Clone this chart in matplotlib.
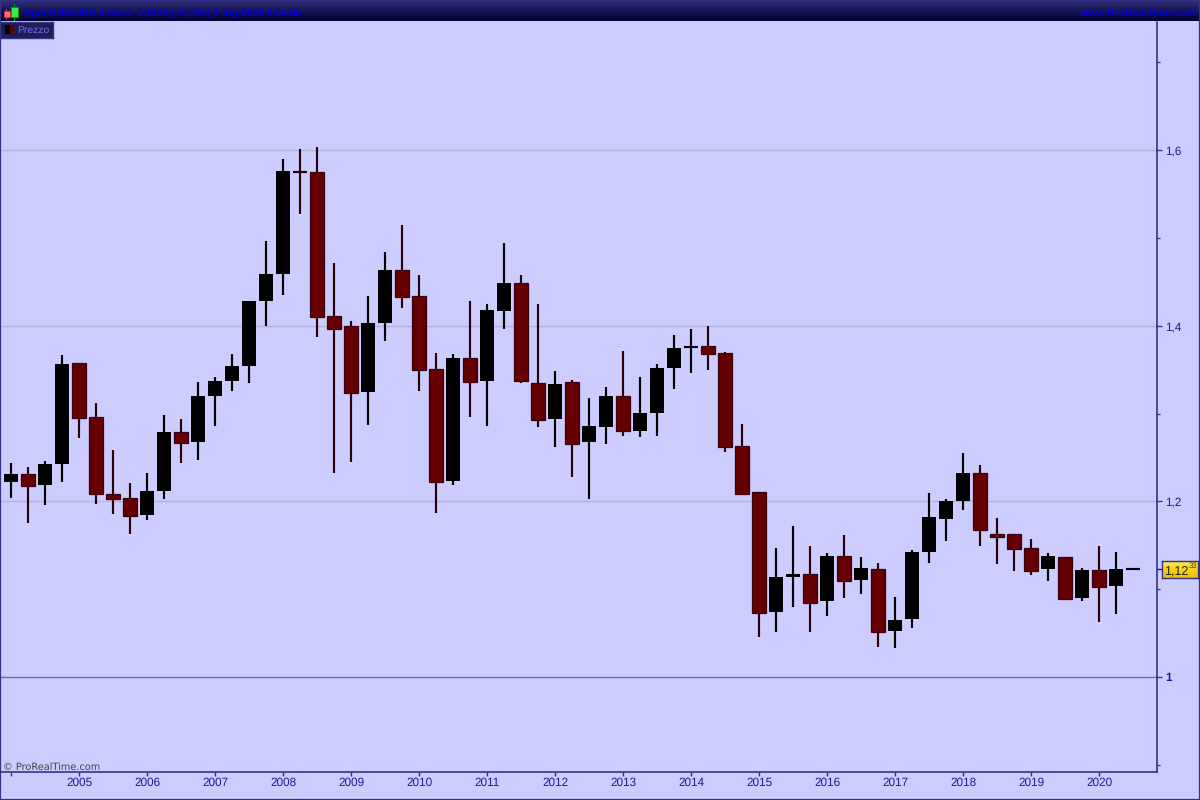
import numpy as np
import matplotlib
matplotlib.use('Agg')
import matplotlib.pyplot as plt
from matplotlib.colors import LinearSegmentedColormap
from matplotlib.patches import Rectangle
from matplotlib.ticker import FuncFormatter

plt.rcParams['text.hinting'] = 'no_hinting'

# quarterly EUR/USD candles
opens = [1.2221, 1.2312, 1.2187, 1.2426, 1.3576, 1.2961, 1.2084, 1.2039, 1.1845, 1.2119, 1.2791,
         1.2677, 1.3201, 1.3371, 1.3542, 1.4283, 1.4590, 1.5757, 1.5752, 1.4112, 1.3998, 1.3246,
         1.4032, 1.4636, 1.4340, 1.3508, 1.2232, 1.3633, 1.3371, 1.4169, 1.4488, 1.3349, 1.2939,
         1.3360, 1.2677, 1.2848, 1.3201, 1.2802, 1.3007, 1.3520, 1.3753, 1.3770, 1.3690, 1.2631,
         1.2107, 1.0740, 1.1139, 1.1173, 1.0866, 1.1378, 1.1105, 1.1230, 1.0524, 1.0661, 1.1424,
         1.1800, 1.2005, 1.2324, 1.1629, 1.1629, 1.1469, 1.1230, 1.1367, 1.0900, 1.1219, 1.1036,
         1.1225]
highs = [1.2437, 1.2392, 1.2460, 1.3668, 1.3576, 1.3121, 1.2586, 1.2210, 1.2324, 1.2984, 1.2939,
         1.3360, 1.3417, 1.3679, 1.4283, 1.4966, 1.5900, 1.6014, 1.6037, 1.4715, 1.4055, 1.4340,
         1.4841, 1.5148, 1.4579, 1.3690, 1.3679, 1.4283, 1.4248, 1.4943, 1.4579, 1.4248, 1.3485,
         1.3383, 1.3178, 1.3303, 1.3713, 1.3417, 1.3565, 1.3895, 1.3964, 1.3998, 1.3702, 1.2882,
         1.2107, 1.1469, 1.1720, 1.1492, 1.1412, 1.1617, 1.1367, 1.1298, 1.0911, 1.1447, 1.2096,
         1.2027, 1.2551, 1.2415, 1.1811, 1.1629, 1.1572, 1.1412, 1.1367, 1.1242, 1.1492, 1.1424,
         1.1233]
lows = [1.2039, 1.1754, 1.1959, 1.2221, 1.2722, 1.1970, 1.1857, 1.1629, 1.1788, 1.2027, 1.2437,
        1.2472, 1.2859, 1.3258, 1.3349, 1.3998, 1.4351, 1.5274, 1.3873, 1.2324, 1.2449, 1.2870,
        1.3827, 1.4203, 1.3258, 1.1868, 1.2187, 1.2961, 1.2859, 1.3964, 1.3349, 1.2848, 1.2620,
        1.2278, 1.2027, 1.2654, 1.2745, 1.2734, 1.2745, 1.3280, 1.3463, 1.3497, 1.2563, 1.2084,
        1.0456, 1.0513, 1.0797, 1.0513, 1.0695, 1.0900, 1.0945, 1.0342, 1.0330, 1.0558, 1.1298,
        1.1549, 1.1902, 1.1492, 1.1287, 1.1207, 1.1162, 1.1093, 1.0877, 1.0866, 1.0626, 1.0718,
        1.1225]
closes = [1.2312, 1.2175, 1.2426, 1.3565, 1.2950, 1.2084, 1.2027, 1.1834, 1.2119, 1.2791, 1.2665,
          1.3201, 1.3371, 1.3542, 1.4283, 1.4590, 1.5763, 1.5746, 1.4100, 1.3964, 1.3235, 1.4032,
          1.4636, 1.4328, 1.3497, 1.2221, 1.3633, 1.3360, 1.4180, 1.4488, 1.3371, 1.2927, 1.3337,
          1.2654, 1.2859, 1.3201, 1.2802, 1.3007, 1.3520, 1.3747, 1.3764, 1.3679, 1.2620, 1.2084,
          1.0729, 1.1139, 1.1173, 1.0843, 1.1378, 1.1093, 1.1242, 1.0513, 1.0649, 1.1424, 1.1822,
          1.2005, 1.2324, 1.1674, 1.1595, 1.1458, 1.1207, 1.1378, 1.0888, 1.1219, 1.1025, 1.1230,
          1.1233]
year_labels = ['2005', '2006', '2007', '2008', '2009', '2010', '2011', '2012', '2013', '2014',
               '2015', '2016', '2017', '2018', '2019', '2020']
minor_ticks = [0.9, 1.1, 1.3, 1.5, 1.7]
price_labels = [1.0, 1.2, 1.4, 1.6]
last_price = 1.1233

BG = '#ccccff'
FRAME = '#333388'
RED = '#660000'
RED_EDGE = '#3a0010'
WICK_RED = '#2a0008'

fig = plt.figure(figsize=(12, 8), dpi=100, facecolor=BG)
ax = fig.add_axes([1 / 1200, 28 / 800, 1156 / 1200, 750 / 800], facecolor=BG)

x = np.arange(len(opens))
ax.set_xlim(-10 / 17, 1146 / 17)
ax.set_ylim(0.8918, 1.7460)

# horizontal levels
for p in price_labels:
    if p == 1.0:
        ax.axhline(p, color='#6f6f9a', lw=1, zorder=1)
    else:
        ax.axhline(p, color='#b5b1d9', lw=1, zorder=1)

# candles
for i in x:
    up = closes[i] >= opens[i]
    wick = 'black' if up else WICK_RED
    ax.plot([i, i], [lows[i], highs[i]], color=wick, lw=1.55, solid_capstyle='butt', snap=True, zorder=2)
    bottom = min(opens[i], closes[i])
    height = abs(closes[i] - opens[i])
    if height < 0.0015:
        # doji, only a flat dash
        mid = (opens[i] + closes[i]) / 2
        ax.plot([i - 7 / 17, i + 7 / 17], [mid, mid], color=wick, lw=1.55, solid_capstyle='butt',
                snap=True, zorder=3)
    elif up:
        ax.bar(i, height, bottom=bottom, width=14 / 17, color='black', lw=0, zorder=3)
    else:
        ax.bar(i, height, bottom=bottom, width=14 / 17, color=RED, edgecolor=RED_EDGE, lw=0.9, zorder=3)

for s in ['top', 'left']:
    ax.spines[s].set_visible(False)
for s in ['right', 'bottom']:
    ax.spines[s].set_color(FRAME)
    ax.spines[s].set_linewidth(1.2)

ax.yaxis.tick_right()
ax.set_yticks(price_labels)
ax.set_yticks(minor_ticks, minor=True)
ax.yaxis.set_major_formatter(FuncFormatter(lambda v, pos: ('%g' % round(v, 1)).replace('.', ',')))
ax.tick_params(axis='y', which='major', colors=FRAME, length=3.5, width=1, pad=2.5, labelsize=8.5,
               labelcolor='#1a1a99')
ax.tick_params(axis='y', which='minor', colors=FRAME, length=1.8, width=1)
for lab in ax.get_yticklabels():
    lab.set_fontfamily('Liberation Sans')
    if lab.get_text() == '1':
        lab.set_fontweight('bold')

year_pos = x[4::4]
ax.set_xticks(np.concatenate([[0], year_pos]))
ax.set_xticklabels([''] + year_labels, family='Liberation Sans', fontsize=8.5, color='#1a1a99')
ax.tick_params(axis='x', colors=FRAME, length=3, width=1, pad=1, labelcolor='#1a1a99')

# marker from the axis to the price box
ax.plot([1, 1.005], [last_price, last_price], transform=ax.get_yaxis_transform(), color='#1a1a99',
        lw=1, clip_on=False)

# last price box
box_ax = fig.add_axes([1162 / 1200, 222 / 800, 36 / 1200, 17 / 800])
box_ax.imshow(np.linspace(0, 1, 32).reshape(-1, 1), aspect='auto', extent=[0, 1, 0, 1],
              cmap=LinearSegmentedColormap.from_list('y', ['#ffe94a', '#f0bb00']))
box_ax.set_xticks([])
box_ax.set_yticks([])
for s in box_ax.spines.values():
    s.set_color(FRAME)
    s.set_linewidth(1)
txt = ('%.4f' % last_price).replace('.', ',')
box_ax.text(0.07, 0.44, txt[:4], transform=box_ax.transAxes, family='Liberation Sans',
            fontsize=9, color='#222200', va='center')
box_ax.text(0.73, 0.70, txt[4:], transform=box_ax.transAxes, family='Liberation Sans',
            fontsize=5.5, color='#444400', va='center')

# header band
head = fig.add_axes([0, 779 / 800, 1, 21 / 800])
head.imshow(np.linspace(0, 1, 32).reshape(-1, 1), aspect='auto', extent=[0, 1200, 0, 21],
            cmap=LinearSegmentedColormap.from_list('h', ['#2f2f78', '#000033']))
head.axis('off')
head.set_xlim(0, 1200)
head.set_ylim(0, 21)
head.plot([6.3, 6.3], [2, 12], color='#cc3333', lw=0.8)
head.add_patch(Rectangle((3.5, 4), 6, 6, fc='#ff7070', ec='#cc3333', lw=0.7, zorder=3))
head.plot([14.3, 14.3], [1, 17], color='#009922', lw=0.8)
head.add_patch(Rectangle((11, 4.3), 6.5, 9.7, fc='#33ee44', ec='#009922', lw=0.7, zorder=3))
head.text(24, 8, 'Spot EUR/USD 3 mesi: 1,1233 (-0,12%) 1-lug-2020 0.04.55', color='#0000f0',
          family='Liberation Sans', fontweight='bold', fontsize=7.35, va='center')
head.text(1196, 8, 'www.ProRealTime.com', color='#0000f0', family='Liberation Sans',
          fontweight='bold', fontsize=7.55, va='center', ha='right')

# legend tab
tab = fig.add_axes([0, 762 / 800, 53 / 1200, 16 / 800], facecolor='#1e1e55')
tab.set_xlim(0, 53)
tab.set_ylim(0, 16)
tab.set_xticks([])
tab.set_yticks([])
for s in tab.spines.values():
    s.set_color(FRAME)
    s.set_linewidth(1)
tab.add_patch(Rectangle((5, 4), 5, 9, fc='black', lw=0))
tab.add_patch(Rectangle((10, 4), 4, 9, fc=RED, lw=0))
tab.text(17.5, 7.5, 'Prezzo', color='#7070f0', family='Liberation Sans', fontsize=7.5, va='center')

fig.text(3 / 1200, 33 / 800, '\u00a9 ProRealTime.com', color='#444444', fontsize=7, va='center')

# outer frame
fig.add_artist(Rectangle((0, 0), 1, 1, transform=fig.transFigure, fill=False, ec=FRAME, lw=1.6))

fig.savefig('out.png', dpi=100, facecolor=BG)
